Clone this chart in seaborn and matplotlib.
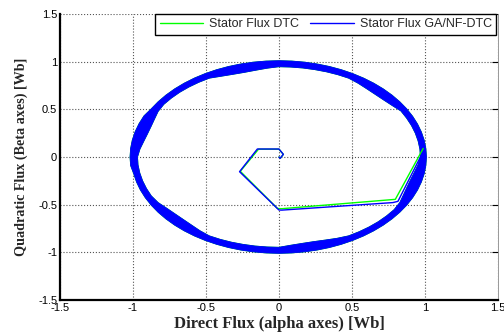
import numpy as np
import pandas as pd
import seaborn as sns
import matplotlib
matplotlib.use("Agg")
import matplotlib.pyplot as plt
from matplotlib.path import Path
from matplotlib.patches import PathPatch

# %%
# dados

# anel do regime permanente (coordenadas polares, passo de 5 graus)
ring_angle = [0, 5, 10, 15, 20, 25, 30, 35, 40, 45, 50, 55, 60, 65, 70, 75, 80, 85,
              90, 95, 100, 105, 110, 115, 120, 125, 130, 135, 140, 145, 150, 155, 160, 165, 170, 175,
              180, 185, 190, 195, 200, 205, 210, 215, 220, 225, 230, 235, 240, 245, 250, 255, 260, 265,
              270, 275, 280, 285, 290, 295, 300, 305, 310, 315, 320, 325, 330, 335, 340, 345, 350, 355]
ring_outer = [1.01, 1.01, 1.01, 1.01, 1.01, 1.01, 1.01, 1.01, 1.01, 1.01, 1.01, 1.01, 1.01, 1.01, 1.01, 1.01, 1.01, 1.01,
              1.01, 1.01, 1.01, 1.01, 1.01, 1.01, 1.01, 1.01, 1.01, 1.01, 1.01, 1.01, 1.01, 1.02, 1.02, 1.02, 1.02, 1.02,
              1.02, 1.02, 1.01, 1.01, 1.01, 1.01, 1.01, 1.01, 1.01, 1.01, 1.01, 1.01, 1.01, 1.01, 1.01, 1.01, 1.01, 1.01,
              1.01, 1.01, 1.01, 1.01, 1.01, 1.01, 1.01, 1.01, 1.01, 1.01, 1.01, 1.01, 1.01, 1.01, 1.01, 1.01, 1.01, 1.01]
ring_inner = [0.969, 0.969, 0.968, 0.967, 0.966, 0.965, 0.965, 0.945, 0.934, 0.931, 0.935, 0.945, 0.955, 0.953, 0.951, 0.949, 0.948, 0.947,
              0.947, 0.935, 0.924, 0.919, 0.923, 0.935, 0.955, 0.957, 0.959, 0.961, 0.962, 0.963, 0.956, 0.941, 0.933, 0.933, 0.941, 0.956,
              0.969, 0.969, 0.968, 0.967, 0.966, 0.965, 0.956, 0.938, 0.929, 0.927, 0.932, 0.944, 0.955, 0.953, 0.951, 0.949, 0.948, 0.947,
              0.947, 0.929, 0.920, 0.919, 0.927, 0.941, 0.955, 0.957, 0.959, 0.961, 0.962, 0.963, 0.956, 0.941, 0.933, 0.933, 0.941, 0.956]

# transitorio de partida
dtc_x = [0.0, 0.01, 0.03, 0.0, -0.14, -0.265, -0.01, 0.02, 0.797, 0.988]
dtc_y = [0.0, -0.012, 0.028, 0.082, 0.082, -0.15, -0.54, -0.542, -0.444, 0.09]
ga_x = [0.0, 0.008, 0.03, 0.0, -0.148, -0.27, 0.0, 0.02, 0.78, 0.815, 0.982]
ga_y = [0.0, -0.014, 0.028, 0.084, 0.084, -0.154, -0.556, -0.557, -0.478, -0.465, 0.04]

ticks = [-1.5, -1, -0.5, 0, 0.5, 1, 1.5]
tick_labels = ['-1.5', '-1', '-0.5', '0', '0.5', '1', '1.5']

verde = '#00ff00'
azul = '#0000ff'

# %%
sns.set_style('white')
plt.rcParams['font.family'] = ['Liberation Sans', 'DejaVu Sans']

fig = plt.figure(figsize=(5.04, 3.33), dpi=100)
ax = fig.add_axes([0.119, 0.099, 0.869, 0.859])


def anel(cor):
    ang = np.deg2rad(np.array(ring_angle))
    ro = np.array(ring_outer)
    ri = np.array(ring_inner)
    ext = np.column_stack([ro * np.cos(ang), ro * np.sin(ang)])
    inte = np.column_stack([ri * np.cos(ang), ri * np.sin(ang)])[::-1]
    verts = np.vstack([ext, ext[:1], inte, inte[:1]])
    codes = ([Path.MOVETO] + [Path.LINETO] * (len(ext) - 1) + [Path.CLOSEPOLY] +
             [Path.MOVETO] + [Path.LINETO] * (len(inte) - 1) + [Path.CLOSEPOLY])
    ax.add_patch(PathPatch(Path(verts, codes), facecolor=cor, edgecolor=cor, lw=0.6))


anel(verde)
anel(azul)

df_dtc = pd.DataFrame({'x': dtc_x, 'y': dtc_y})
df_ga = pd.DataFrame({'x': ga_x, 'y': ga_y})
sns.lineplot(data=df_dtc, x='x', y='y', sort=False, estimator=None, color=verde,
             lw=1.0, ax=ax, label='Stator Flux DTC')
sns.lineplot(data=df_ga, x='x', y='y', sort=False, estimator=None, color=azul,
             lw=1.0, ax=ax, label='Stator Flux GA/NF-DTC')

ax.set_xlim(-1.5, 1.5)
ax.set_ylim(-1.5, 1.5)
ax.set_xticks(ticks)
ax.set_xticklabels(tick_labels)
ax.set_yticks(ticks)
ax.set_yticklabels(tick_labels)
ax.tick_params(direction='in', length=4, width=0.8, labelsize=8, pad=2,
               right=True, colors='black')
ax.grid(True, color='#555555', linestyle=':', linewidth=0.8)

for lado in ['left', 'bottom']:
    ax.spines[lado].set_color('black')
    ax.spines[lado].set_linewidth(1.6)
ax.spines['top'].set_visible(False)
ax.spines['right'].set_color('#888888')
ax.spines['right'].set_linewidth(0.6)

ax.set_xlabel('Direct Flux (alpha axes) [Wb]', family='Liberation Serif',
              fontweight='bold', fontsize=12, labelpad=2)
ax.set_ylabel('Quadratic Flux (Beta axes) [Wb]', family='Liberation Serif',
              fontweight='bold', fontsize=10.2, labelpad=7)

leg = ax.legend(loc='upper right', bbox_to_anchor=(0.996, 1.0), ncol=2,
                fontsize=9, frameon=True, fancybox=False, framealpha=1,
                edgecolor='black', borderaxespad=0, handlelength=3.5,
                handletextpad=0.45, columnspacing=0.9, borderpad=0.35)
leg.get_frame().set_linewidth(1.0)

fig.savefig('out.png', dpi=100)
